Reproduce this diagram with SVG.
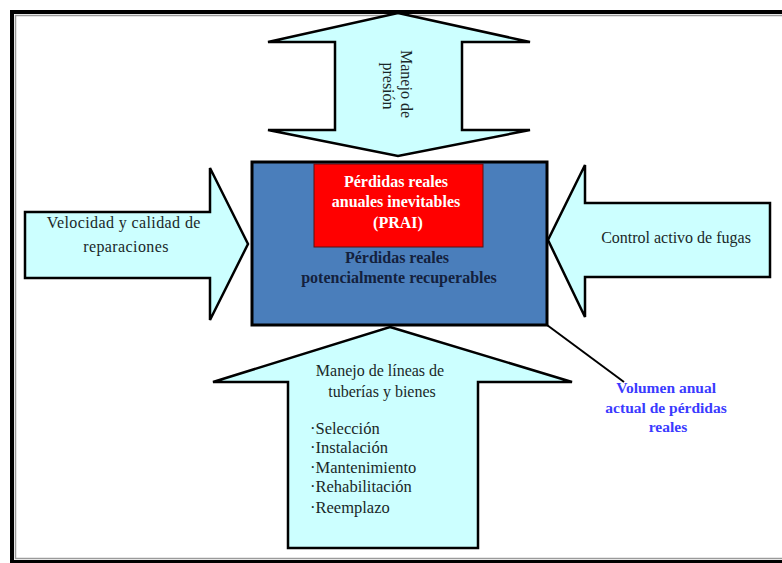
<svg xmlns="http://www.w3.org/2000/svg" width="782" height="563" viewBox="0 0 782 563">
  <defs>
    <style>
      .arrow { fill: #ccffff; stroke: #000; stroke-width: 2.5; stroke-linejoin: miter; }
      .lbl { font-family: "Liberation Serif", "Times New Roman", serif; font-size: 16px; fill: #1a2828; text-anchor: middle; }
      .list { font-family: "Liberation Serif", "Times New Roman", serif; font-size: 16.5px; fill: #1a2828; }
      .white { font-family: "Liberation Serif", "Times New Roman", serif; font-size: 16px; font-weight: bold; fill: #ffffff; text-anchor: middle; }
      .navy { font-family: "Liberation Serif", "Times New Roman", serif; font-size: 16px; font-weight: bold; fill: #14213d; text-anchor: middle; }
      .blue { font-family: "Liberation Serif", "Times New Roman", serif; font-size: 15.5px; font-weight: bold; fill: #3b3bff; text-anchor: middle; }
    </style>
  </defs>

  <rect width="782" height="563" fill="#ffffff"/>

  <!-- outer frame (runs off the right edge) -->
  <rect x="12" y="12" width="800" height="550" fill="none" stroke="#000" stroke-width="4"/>
  <rect x="15.5" y="15.5" width="800" height="543" fill="none" stroke="#9a9a9a" stroke-width="1.5"/>

  <!-- top: pressure management (double arrow) -->
  <g id="manejo-presion">
    <polygon class="arrow" points="398,13 530,42 462,42 462,130 530,130 398,156 268,130 335,130 335,42 268,42"/>
    <text class="lbl" transform="translate(401,86) rotate(90)">
      <tspan x="0" y="0">Manejo de</tspan>
      <tspan x="0" y="18">presión</tspan>
    </text>
  </g>

  <!-- left: repair speed and quality -->
  <g id="velocidad-reparaciones">
    <polygon class="arrow" points="25,212 210,212 210,168 248,244 210,320 210,278 25,278"/>
    <text class="lbl" letter-spacing="0.4">
      <tspan x="126" y="228">Velocidad y calidad de</tspan>
      <tspan x="126" y="252">reparaciones</tspan>
    </text>
  </g>

  <!-- right: active leakage control -->
  <g id="control-fugas">
    <polygon class="arrow" points="770,203 585,203 585,165 548,240 585,317 585,277 770,277"/>
    <text class="lbl" x="676" y="243">Control activo de fugas</text>
  </g>

  <!-- bottom: pipeline and asset management -->
  <g id="manejo-lineas">
    <polygon class="arrow" points="390,327 572,382 478,382 478,548 288,548 288,382 213,382"/>
    <text class="lbl">
      <tspan x="382" y="376">Manejo de líneas de</tspan>
      <tspan x="382" y="397">tuberías y bienes</tspan>
    </text>
    <text class="list">
      <tspan x="310" y="434">·Selección</tspan>
      <tspan x="310" y="453">·Instalación</tspan>
      <tspan x="310" y="473">·Mantenimiento</tspan>
      <tspan x="310" y="492">·Rehabilitación</tspan>
      <tspan x="310" y="513">·Reemplazo</tspan>
    </text>
  </g>

  <!-- central box: recoverable real losses -->
  <g id="perdidas-recuperables">
    <rect x="252" y="162" width="295" height="163" fill="#4a7ebb" stroke="#000" stroke-width="3"/>
    <text class="navy">
      <tspan x="399" y="263">Pérdidas reales</tspan>
      <tspan x="399" y="283">potencialmente recuperables</tspan>
    </text>
  </g>

  <!-- inner box: unavoidable annual real losses -->
  <g id="prai">
    <rect x="314" y="164" width="169" height="83" fill="#ff0000" stroke="#5a1010" stroke-width="1"/>
    <text class="white">
      <tspan x="398" y="187">Pérdidas reales</tspan>
      <tspan x="398" y="207">anuales inevitables</tspan>
      <tspan x="398" y="228">(PRAI)</tspan>
    </text>
  </g>

  <!-- callout -->
  <g id="connectors">
    <line x1="547" y1="325" x2="624" y2="382" stroke="#000" stroke-width="2"/>
  </g>
  <g id="volumen-anual">
    <text class="blue">
      <tspan x="668" y="393">Volumen anual</tspan>
      <tspan x="668" y="413">actual de pérdidas</tspan>
      <tspan x="668" y="432">reales</tspan>
    </text>
  </g>
</svg>
